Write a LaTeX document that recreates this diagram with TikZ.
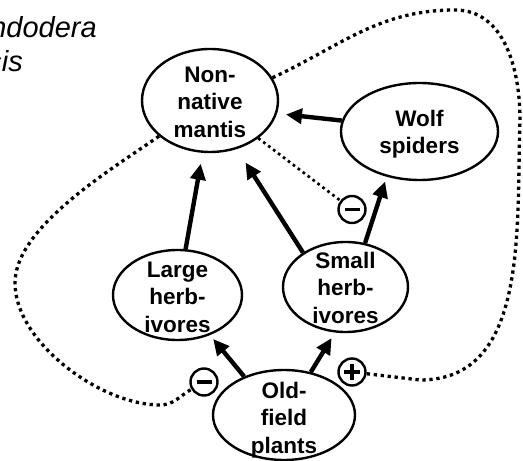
\documentclass[tikz,border=0pt]{standalone}
\usepackage{fontspec}
\setmainfont{Liberation Sans}
\usetikzlibrary{arrows.meta,shapes.geometric}
\begin{document}
\begin{tikzpicture}[x=1pt,y=1pt,
  blob/.style={draw,ellipse,line width=2.4pt,inner sep=0pt},
  lbl/.style={align=center,font=\fontsize{22.5}{27.5}\selectfont\bfseries,inner sep=0pt},
  arr/.style={line width=4.4pt,-{Triangle[length=16pt,width=15pt]}},
  dotline/.style={line width=3.3pt,dash pattern=on 3.3pt off 3.7pt},
  thindots/.style={line width=2.7pt,dash pattern=on 2.7pt off 3.5pt},
  sgn/.style={draw,circle,line width=2.4pt,minimum size=27pt,inner sep=0pt},
  bar/.style={line width=3.2pt},
  species/.style={font=\fontsize{29}{34.5}\selectfont\itshape,anchor=base east,inner sep=0pt}]
\useasboundingbox (0,0) rectangle (523,461);
% ellipses
\node[blob,minimum width=136pt,minimum height=103pt] (mantis) at (210,360.5) {};
\node[blob,minimum width=157pt,minimum height=97pt] (wolf) at (419.5,329.5) {};
\node[blob,minimum width=129pt,minimum height=90pt] (lh) at (177.5,166) {};
\node[blob,minimum width=125pt,minimum height=90pt] (sh) at (345.5,174) {};
\node[blob,minimum width=142pt,minimum height=90pt] (old) at (284,46) {};
% texts
\node[lbl] (mantist) at ([yshift=-1.5pt]mantis.center) {Non-\\native\\mantis};
\node[lbl] (wolft) at ([yshift=-2.5pt]wolf.center) {Wolf\\spiders};
\node[lbl] (lht) at ([yshift=-2pt]lh.center) {Large\\herb-\\ivores};
\node[lbl] (sht) at ([yshift=-0.5pt]sh.center) {Small\\herb-\\ivores};
\node[lbl] (oldt) at ([yshift=-5pt]old.center) {Old-\\field\\plants};
\node[species] (sp1) at (97,423) {ndodera};
\node[species] (sp2) at (23,389) {sis};
% sign circles
\node[sgn] (m1) at (204,79) {};
\node[sgn] (m2) at (352,251.5) {};
\node[sgn] (p1) at (352,89) {};
\draw[bar] ([xshift=-7.5pt]m1.center) -- ([xshift=7.5pt]m1.center);
\draw[bar] ([xshift=-7.5pt]m2.center) -- ([xshift=7.5pt]m2.center);
\draw[bar] ([xshift=-8pt]p1.center) -- ([xshift=8pt]p1.center);
\draw[bar] ([yshift=-8pt]p1.center) -- ([yshift=8pt]p1.center);
% arrows
\draw[arr,shorten >=9pt] (wolf.172) -- (mantis.349);
\draw[arr,shorten >=11pt] (lh.80.5) -- (mantis.262.7);
\draw[arr,shorten >=16pt] (sh.141.3) -- (mantis.299.4);
\draw[arr,shorten >=5pt] (sh.66.6) -- (wolf.234.6);
\draw[arr,shorten >=5pt] (old.136.5) -- (lh.309.5);
\draw[arr,shorten >=6.5pt] (old.58.2) -- (sh.257.3);
% dotted loops
\draw[dotline] (mantis.20) to[out=25,in=180] (455,451) to[out=0,in=90] (520,341)
  to[out=-92,in=0] (420,81) -- (p1);
\draw[dotline] (mantis.215) to[out=215,in=90,looseness=0.7] (15,178)
  to[out=-90,in=180,looseness=0.8] (160,56) to[out=0,in=-150] (m1);
\draw[thindots] (mantis.322) -- (m2);
\end{tikzpicture}
\end{document}
